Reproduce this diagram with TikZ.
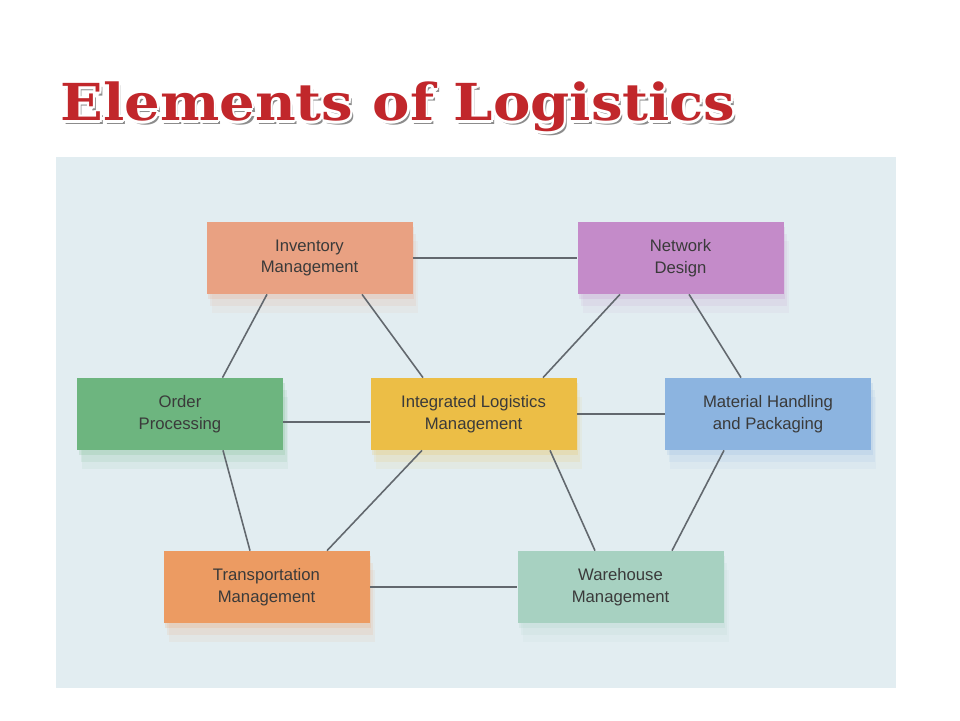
\documentclass[tikz,border=0pt]{standalone}
\usepackage{fontspec}
\usepackage{tikz}
\usepackage{xcolor}
\usetikzlibrary{shadows}
\newfontfamily\boxfont{Liberation Sans}
\newfontfamily\titlefont{DejaVu Serif}

\definecolor{paper}{HTML}{E2EDF1}
\definecolor{invcol}{HTML}{E9A182}
\definecolor{netcol}{HTML}{C48BC9}
\definecolor{ordcol}{HTML}{6DB57F}
\definecolor{ilmcol}{HTML}{ECBE46}
\definecolor{matcol}{HTML}{8CB4E0}
\definecolor{trncol}{HTML}{EC9B62}
\definecolor{warcol}{HTML}{A7D1C1}
\definecolor{textcol}{HTML}{3A3A3A}
\definecolor{linecol}{HTML}{62686E}
\definecolor{titlered}{HTML}{C1272B}

\begin{document}
\begin{tikzpicture}[
    element/.style={fill=#1, minimum width=4.12cm, minimum height=1.44cm,
        inner sep=0pt, align=center, text=textcol,
        font=\boxfont\fontsize{9.5}{12.5}\selectfont,
        general shadow={fill=#1, opacity=0.08, rounded corners=8pt, shadow xshift=3pt, shadow yshift=-11pt},
        general shadow={fill=#1, opacity=0.12, rounded corners=5pt, shadow xshift=2pt, shadow yshift=-7pt},
        general shadow={fill=#1, opacity=0.18, rounded corners=2pt, shadow xshift=1pt, shadow yshift=-3pt}},
    link/.style={draw=linecol, line width=0.9pt},
    heading/.style={font=\titlefont\bfseries\fontsize{29}{32}\selectfont, xscale=1.1, transform shape,
        anchor=base west, inner sep=0pt}
]
    \useasboundingbox (0,0) rectangle (19.2,14.4);
    \fill[white] (0,0) rectangle (19.2,14.4);

    % photo background
    \fill[paper] (1.12,0.64) rectangle (17.92,11.26);

    % title
    \coordinate (T) at (1.20,11.98);
    \node[heading, text=black!45] at ([shift={(1.5pt,-2pt)}]T) {Elements of Logistics};
    \foreach \a in {0,45,...,315}
        \node[heading, text=white] at ([shift={(\a:1.3pt)}]T) {Elements of Logistics};
    \node[heading, text=titlered] (title) at (T) {Elements of Logistics};

    % elements
    \node[element=invcol] (inv) at (6.19,9.24) {Inventory\\Management};
    \node[element=netcol] (net) at (13.61,9.24) {Network\\Design};
    \node[element=ordcol] (ord) at (3.60,6.12) {Order\\Processing};
    \node[element=ilmcol] (ilm) at (9.47,6.12) {Integrated Logistics\\Management};
    \node[element=matcol] (mat) at (15.36,6.12) {Material Handling\\and Packaging};
    \node[element=trncol] (trn) at (5.33,2.66) {Transportation\\Management};
    \node[element=warcol] (war) at (12.41,2.66) {Warehouse\\Management};

    % links
    \draw[link] (inv) -- (net);
    \draw[link] ([xshift=-0.85cm]inv.south) -- ([xshift=0.85cm]ord.north);
    \draw[link] ([xshift=1.05cm]inv.south) -- ([xshift=-1.01cm]ilm.north);
    \draw[link] ([xshift=-1.21cm]net.south) -- ([xshift=1.39cm]ilm.north);
    \draw[link] ([xshift=0.17cm]net.south) -- ([xshift=-0.54cm]mat.north);
    \draw[link] ([yshift=-0.16cm]ord.east) -- ([yshift=-0.16cm]ilm.west);
    \draw[link] (ilm) -- (mat);
    \draw[link] ([xshift=0.86cm]ord.south) -- ([xshift=-0.33cm]trn.north);
    \draw[link] ([xshift=-1.03cm]ilm.south) -- ([xshift=1.21cm]trn.north);
    \draw[link] ([xshift=1.53cm]ilm.south) -- ([xshift=-0.51cm]war.north);
    \draw[link] ([xshift=-0.88cm]mat.south) -- ([xshift=1.03cm]war.north);
    \draw[link] (trn) -- (war);
\end{tikzpicture}
\end{document}
